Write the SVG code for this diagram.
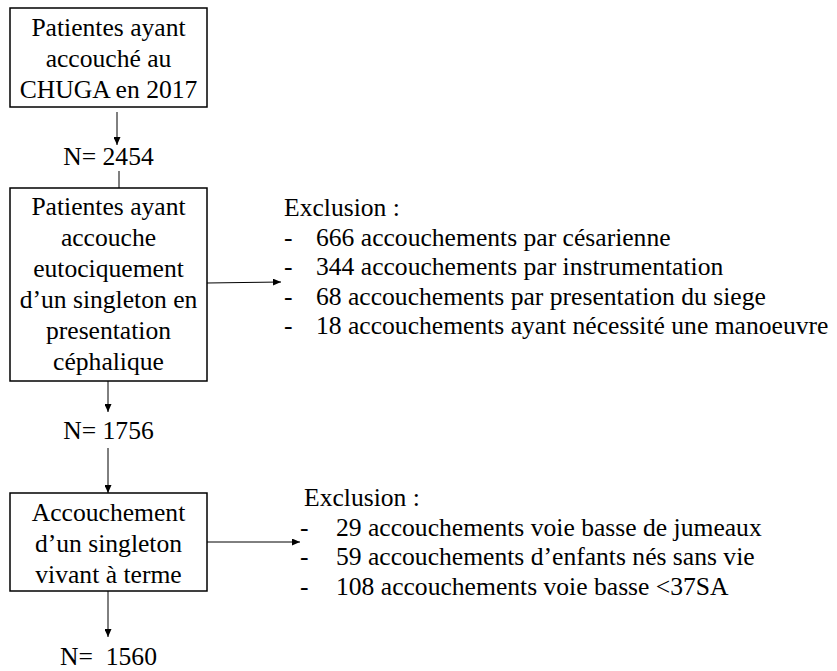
<svg xmlns="http://www.w3.org/2000/svg" width="837" height="671" viewBox="0 0 837 671">
<defs>
<style>
.box{fill:#fff;stroke:#000;stroke-width:1.5}
.t{font-size:25.6px;fill:#000}
.c{text-anchor:middle}
.ln{stroke:#000;stroke-width:1;fill:none}
</style>
<marker id="ah" markerWidth="8" markerHeight="7" refX="8" refY="3.5" orient="auto" markerUnits="userSpaceOnUse">
<path d="M0,0 L8,3.5 L0,7 Z" fill="#000"/>
</marker>
</defs>
<rect width="837" height="671" fill="#fff"/>
<g id="connectors">
<line class="ln" x1="117" y1="112" x2="117" y2="145" marker-end="url(#ah)"/>
<line class="ln" x1="119" y1="171" x2="119" y2="188"/>
<line class="ln" x1="207" y1="283" x2="281" y2="282" marker-end="url(#ah)"/>
<line class="ln" x1="108" y1="381" x2="108" y2="412" marker-end="url(#ah)"/>
<line class="ln" x1="108" y1="448" x2="108" y2="493" marker-end="url(#ah)"/>
<line class="ln" x1="207" y1="542" x2="300" y2="542" marker-end="url(#ah)"/>
<line class="ln" x1="108" y1="591" x2="108" y2="637" marker-end="url(#ah)"/>
</g>
<g font-family="'Liberation Serif', 'DejaVu Serif', serif">
<g id="node-patientes">
<rect class="box" x="10" y="8" width="197" height="99"/>
<text class="t c" x="108.5" y="36">Patientes ayant</text>
<text class="t c" x="108.5" y="67">accouché au</text>
<text class="t c" x="108.5" y="98">CHUGA en 2017</text>
</g>
<g id="label-n2454">
<text class="t c" x="108.5" y="165">N= 2454</text>
</g>
<g id="node-eutocique">
<rect class="box" x="10" y="188" width="197" height="193"/>
<text class="t c" x="108.5" y="215">Patientes ayant</text>
<text class="t c" x="108.5" y="246">accouche</text>
<text class="t c" x="108.5" y="277">eutociquement</text>
<text class="t c" x="108.5" y="308">d’un singleton en</text>
<text class="t c" x="108.5" y="339">presentation</text>
<text class="t c" x="108.5" y="370">céphalique</text>
</g>
<g id="exclusion-1">
<text class="t" x="284" y="216">Exclusion :</text>
<text class="t" x="284" y="246">-</text><text class="t" x="316" y="246">666 accouchements par césarienne</text>
<text class="t" x="284" y="275">-</text><text class="t" x="316" y="275">344 accouchements par instrumentation</text>
<text class="t" x="284" y="304.5">-</text><text class="t" x="316" y="304.5">68 accouchements par presentation du siege</text>
<text class="t" x="284" y="334">-</text><text class="t" x="316" y="334">18 accouchements ayant nécessité une manoeuvre</text>
</g>
<g id="label-n1756">
<text class="t c" x="108.5" y="439">N= 1756</text>
</g>
<g id="node-terme">
<rect class="box" x="10" y="493" width="197" height="98"/>
<text class="t c" x="108.5" y="521">Accouchement</text>
<text class="t c" x="108.5" y="552">d’un singleton</text>
<text class="t c" x="108.5" y="583">vivant à terme</text>
</g>
<g id="exclusion-2">
<text class="t" x="304" y="506">Exclusion :</text>
<text class="t" x="300" y="535.5">-</text><text class="t" x="336" y="535.5">29 accouchements voie basse de jumeaux</text>
<text class="t" x="300" y="565">-</text><text class="t" x="336" y="565">59 accouchements d’enfants nés sans vie</text>
<text class="t" x="300" y="594.5">-</text><text class="t" x="336" y="594.5">108 accouchements voie basse &lt;37SA</text>
</g>
<g id="label-n1560">
<text class="t c" x="108.5" y="665" xml:space="preserve">N=  1560</text>
</g>
</g>
</svg>
